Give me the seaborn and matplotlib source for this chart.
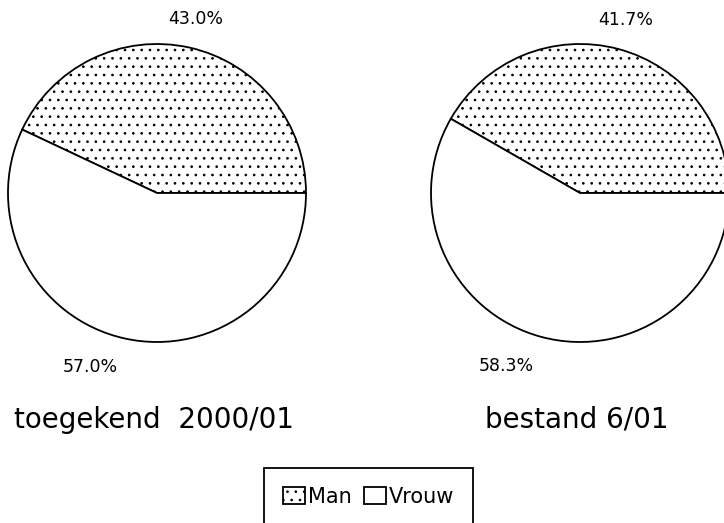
import matplotlib
matplotlib.use("Agg")
import matplotlib.pyplot as plt
import seaborn as sns

# Data
groups = ["toegekend  2000/01", "bestand 6/01"]
man_pct = [43.0, 41.7]
vrouw_pct = [57.0, 58.3]
legend_labels = ["Man", "Vrouw"]

# Layout (pixel coords, y up)
W, H = 724, 523
centers = [(157, 330), (580, 330)]
radius = 149

sns.set_theme(style="white")
plt.rcParams["font.family"] = ["DejaVu Sans"]
plt.rcParams["text.color"] = "black"
plt.rcParams["hatch.linewidth"] = 0.7
plt.rcParams["hatch.color"] = "black"

fig = plt.figure(figsize=(W / 100, H / 100), dpi=100)
ax = fig.add_axes([0, 0, 1, 1])

wedges = None
for (cx, cy), name, m, v in zip(centers, groups, man_pct, vrouw_pct):
    w, t, pct = ax.pie([m, v], center=(cx, cy), radius=radius,
                       startangle=0, counterclock=True,
                       colors=["white", "white"], hatch=["..", ""],
                       autopct="%1.1f%%", pctdistance=1.2,
                       wedgeprops=dict(edgecolor="black", linewidth=1.3),
                       textprops=dict(fontsize=12.5, color="black"))
    for p in pct:
        if p.get_position()[1] < cy:
            p.set_ha("right")
    ax.text(cx - 3, H - 428, name, ha="center", va="baseline",
            fontsize=20, color="black")
    if wedges is None:
        wedges = w

ax.set_xlim(0, W)
ax.set_ylim(0, H)
ax.set_axis_off()

leg = ax.legend(wedges, legend_labels, loc="upper left",
                bbox_to_anchor=(264 / W, 1 - 468 / H),
                bbox_transform=fig.transFigure, ncol=2, fontsize=15,
                frameon=True, fancybox=False, shadow=False, framealpha=1,
                borderpad=0.9, borderaxespad=0, handlelength=1.05,
                handleheight=0.85, handletextpad=0.15, columnspacing=0.6)
leg.get_frame().set_edgecolor("black")
leg.get_frame().set_linewidth(1.3)
for txt in leg.get_texts():
    txt.set_color("black")

fig.savefig("out.png", dpi=100)
